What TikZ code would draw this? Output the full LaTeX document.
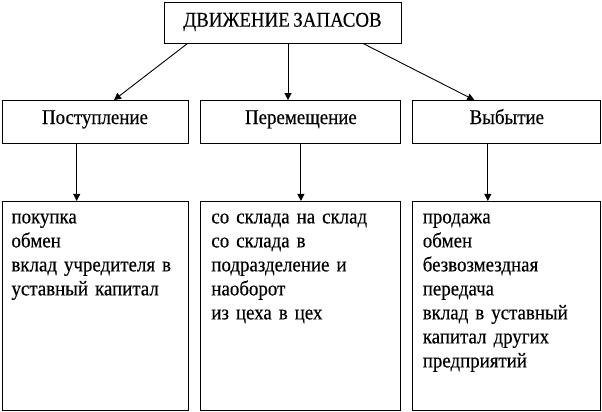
\documentclass[tikz,border=0pt]{standalone}
\usepackage{fontspec}
\setmainfont{Liberation Serif}[FakeStretch=0.9,FakeBold=0.3,WordSpace=0.75]
\usepackage{tikz}
\usetikzlibrary{arrows.meta}
\usetikzlibrary{positioning}

\begin{document}
\begin{tikzpicture}[x=1pt,y=-1pt,line width=0.9pt,
    box/.style={rectangle,draw,inner sep=0pt,minimum height=43pt,text height=12pt,text depth=8pt,font=\fontsize{21}{24}\selectfont},
    listbox/.style={rectangle,draw,inner ysep=0pt,align=left,text height=22pt,text depth=187pt,font=\fontsize{21}{24}\selectfont},
    link/.style={-{Triangle[length=7pt,width=7pt]}}]
      \useasboundingbox (0,0) rectangle (602,412);
      \node[box,minimum width=237pt,minimum height=41pt,text height=13pt,text depth=4.6pt] (movement) at (282.5,22.5) {ДВИЖЕНИЕ ЗАПАСОВ} ;
      \node[box,minimum width=186pt] (receipt) at (95,122) {Поступление} ;
      \node[box,minimum width=200pt, right=12pt of receipt] (transfer) {Перемещение} ;
      \node[box,minimum width=188pt, right=11pt of transfer] (disposal) {Выбытие} ;
      \node[listbox,text width=167pt,inner xsep=9.5pt, below=57pt of receipt] (receiptList)
        {покупка\\обмен\\вклад учредителя в\\уставный капитал} ;
      \node[listbox,text width=179pt,inner xsep=10.5pt, below=57pt of transfer] (transferList)
        {со склада на склад\\со склада в\\подразделение и\\наоборот\\из цеха в цех} ;
      \node[listbox,text width=168pt,inner xsep=10pt, below=57pt of disposal] (disposalList)
        {продажа\\обмен\\безвозмездная\\передача\\вклад в уставный\\капитал других\\предприятий} ;
      \draw [link] ([xshift=24pt]movement.south west) -- ([xshift=19pt]receipt.north) ;
      \draw [link] ([xshift=5.5pt]movement.south) -- ([xshift=5.5pt]movement.south |- transfer.north) ;
      \draw [link] ([xshift=80.5pt]movement.south) -- ([xshift=-32.5pt]disposal.north) ;
      \draw [link] ([xshift=-18.3pt]receipt.south) -- ([xshift=-18.3pt]receipt.south |- receiptList.north) ;
      \draw [link] (transfer) -- (transferList) ;
      \draw [link] ([xshift=-19pt]disposal.south) -- ([xshift=-19pt]disposal.south |- disposalList.north) ;
    \end{tikzpicture}
\end{document}
